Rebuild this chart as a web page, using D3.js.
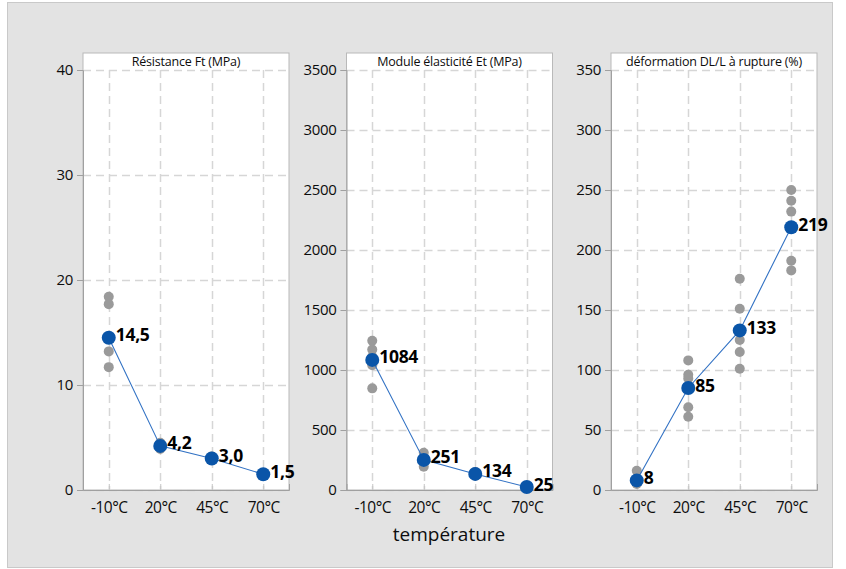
<!DOCTYPE html>
<html>
<head>
<meta charset="utf-8">
<script src="https://cdn.jsdelivr.net/npm/d3@7"></script>
<style>
  html, body { margin: 0; padding: 0; background: #ffffff; }
  svg { display: block; font-family: "Segoe UI", "Open Sans", "Noto Sans", sans-serif; }
</style>
</head>
<body>
<svg id="chart" width="846" height="569"></svg>
<script>
// Temperature categories shared by the three panels
const categories = ["-10°C", "20°C", "45°C", "70°C"];

// Panel titles
const panelTitles = ["Résistance Ft (MPa)", "Module élasticité Et (MPa)", "déformation DL/L à rupture (%)"];

// Mean values per temperature
const meanFt = [14.5, 4.2, 3.0, 1.5];
const meanEt = [1084, 251, 134, 25];
const meanDL = [8, 85, 133, 219];

// Individual specimen measurements per temperature
const rawFt = [[18.4, 17.7, 14.4, 13.2, 11.7], [4.5, 4.3, 3.9, 4.1], [3.2, 2.9, 3.0], [1.4, 1.6, 1.5]];
const rawEt = [[1244, 1170, 1110, 1040, 847], [311, 270, 240, 194], [150, 130, 120], [30, 25, 20]];
const rawDL = [[16, 5, 8], [108, 96, 93, 69, 61], [176, 151, 125, 115, 101], [250, 241, 232, 191, 183]];

// Y axis ticks
const ticksFt = [0, 10, 20, 30, 40];
const ticksEt = [0, 500, 1000, 1500, 2000, 2500, 3000, 3500];
const ticksDL = [0, 50, 100, 150, 200, 250, 300, 350];

const frFormat = d3.formatLocale({decimal: ",", thousands: "", grouping: [3], currency: ["", " €"]});

const panels = [
  {title: panelTitles[0], means: meanFt, raw: rawFt, ticks: ticksFt, fmt: frFormat.format(".1f")},
  {title: panelTitles[1], means: meanEt, raw: rawEt, ticks: ticksEt, fmt: frFormat.format(".0f")},
  {title: panelTitles[2], means: meanDL, raw: rawDL, ticks: ticksDL, fmt: frFormat.format(".0f")}
];

const svg = d3.select("#chart");

// Outer frame
svg.append("rect")
  .attr("x", 7.5).attr("y", 2.5).attr("width", 825).attr("height", 565)
  .attr("fill", "#e3e3e3").attr("stroke", "#c9c9c9");

const panelLeft = [83, 346.5, 611];
const panelW = 206;
const headerTop = 53;
const plotTop = 70;
const plotBottom = 490;

const gridColor = "#d6d6d6";
const axisColor = "#a0a0a0";
const textColor = "#0d0d0d";
const labelFont = "\"Segoe UI\", \"Open Sans\", sans-serif";

panels.forEach((p, i) => {
  const x0 = panelLeft[i];
  const g = svg.append("g");

  const x = d3.scalePoint().domain(categories).range([x0, x0 + panelW]).padding(0.5);
  const y = d3.scaleLinear().domain([0, d3.max(p.ticks)]).range([plotBottom, plotTop]);

  // Panel background with header strip
  g.append("rect")
    .attr("x", x0).attr("y", headerTop).attr("width", panelW).attr("height", plotBottom - headerTop)
    .attr("fill", "#ffffff").attr("stroke", "#b9b9b9").attr("stroke-width", 1);

  g.append("text")
    .attr("x", x0 + panelW / 2).attr("y", 66)
    .attr("text-anchor", "middle")
    .attr("font-size", 12.5).attr("fill", textColor)
    .attr("letter-spacing", "-0.2")
    .text(p.title);

  // Dashed gridlines
  g.append("g").selectAll("line").data(p.ticks).join("line")
    .attr("x1", x0).attr("x2", x0 + panelW)
    .attr("y1", d => Math.round(y(d)) + 0.5).attr("y2", d => Math.round(y(d)) + 0.5)
    .attr("stroke", gridColor).attr("stroke-width", 1.5).attr("stroke-dasharray", "8,5");

  g.append("g").selectAll("line").data(categories).join("line")
    .attr("x1", d => Math.round(x(d)) + 0.5).attr("x2", d => Math.round(x(d)) + 0.5)
    .attr("y1", plotTop).attr("y2", plotBottom)
    .attr("stroke", gridColor).attr("stroke-width", 1.5).attr("stroke-dasharray", "8,5");

  // Left axis
  const yAxis = g.append("g")
    .attr("transform", `translate(${x0},0)`)
    .call(d3.axisLeft(y).tickValues(p.ticks).tickSize(6).tickPadding(4).tickFormat(d3.format("d")));
  yAxis.select(".domain").attr("stroke", axisColor);
  yAxis.selectAll(".tick line").attr("stroke", axisColor);
  yAxis.selectAll(".tick text").attr("font-size", 15).attr("fill", textColor)
    .attr("letter-spacing", "-0.3").attr("font-family", labelFont);

  // Bottom axis
  const xAxis = g.append("g")
    .attr("transform", `translate(0,${plotBottom})`)
    .call(d3.axisBottom(x).tickSize(-6).tickPadding(12));
  xAxis.select(".domain").attr("stroke", axisColor);
  xAxis.selectAll(".tick line").attr("stroke", "#c4c4c4");
  xAxis.selectAll(".tick text").attr("font-size", 15.5).attr("fill", textColor)
    .attr("letter-spacing", "-0.5").attr("font-family", labelFont);

  // Individual measurements
  const pts = [];
  p.raw.forEach((vals, k) => vals.forEach(v => pts.push({c: categories[k], v})));
  g.append("g").selectAll("circle").data(pts).join("circle")
    .attr("cx", d => x(d.c)).attr("cy", d => y(d.v)).attr("r", 5)
    .attr("fill", "#9a9a9a");

  // Mean line
  const means = p.means.map((v, k) => ({c: categories[k], v}));
  g.append("path").datum(means)
    .attr("d", d3.line().x(d => x(d.c)).y(d => y(d.v)))
    .attr("fill", "none").attr("stroke", "#3272c4").attr("stroke-width", 1.1);

  g.append("g").selectAll("circle").data(means).join("circle")
    .attr("cx", d => x(d.c)).attr("cy", d => y(d.v)).attr("r", 7)
    .attr("fill", "#0a55a8");

  g.append("g").selectAll("text").data(means).join("text")
    .attr("x", d => x(d.c) + 7).attr("y", d => y(d.v) + 3.5)
    .attr("font-size", 17.5).attr("font-weight", "bold").attr("fill", "#000000")
    .attr("letter-spacing", "-0.3")
    .text(d => p.fmt(d.v));
});

// Shared x axis title
svg.append("text")
  .attr("x", 449).attr("y", 541)
  .attr("text-anchor", "middle")
  .attr("font-size", 19).attr("fill", textColor)
  .text("température");
</script>
</body>
</html>
